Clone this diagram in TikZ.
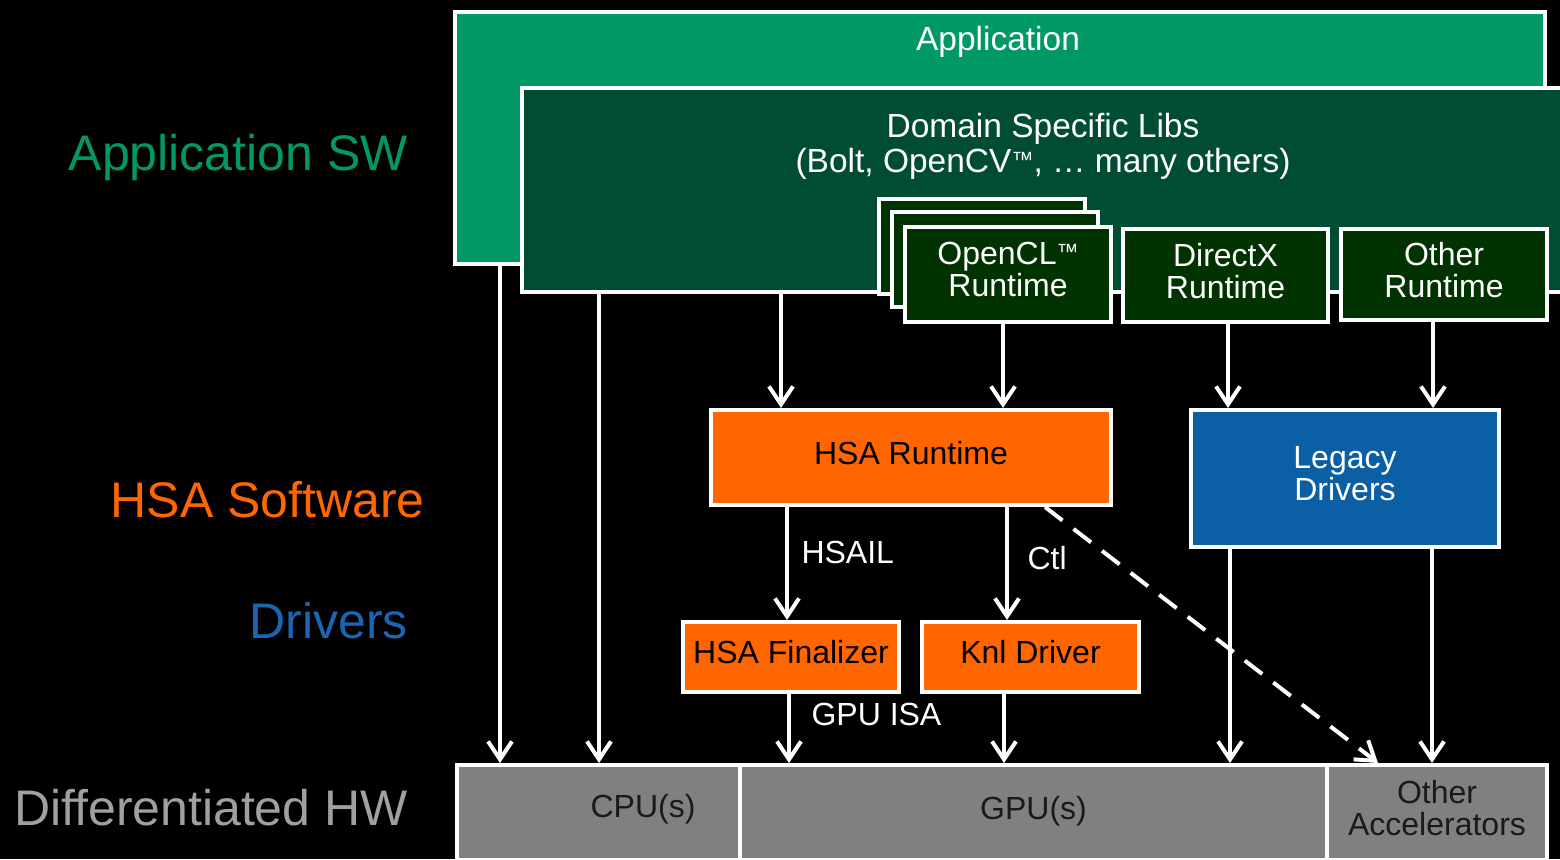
\documentclass[tikz,border=0pt]{standalone}
\usepackage{fontspec}
\setmainfont{Liberation Sans}
\usetikzlibrary{arrows.meta}

\definecolor{appgreen}{HTML}{009966}
\definecolor{libgreen}{HTML}{004D33}
\definecolor{rtgreen}{HTML}{003300}
\definecolor{hsaorange}{HTML}{FF6600}
\definecolor{legblue}{HTML}{0B5FA5}
\definecolor{drvblue}{HTML}{1A66B3}
\definecolor{hwgray}{HTML}{808080}
\definecolor{lightgray}{HTML}{A0A0A0}
\definecolor{inkdark}{HTML}{1A1A1A}

% small raised trademark sign
\newcommand{\tmsign}{\raisebox{5pt}{\fontsize{22}{22}\selectfont ™}}

\begin{document}
\begin{tikzpicture}[x=1pt,y=-1pt,
  box/.style={draw=white, line width=4pt, rectangle, inner sep=0pt,
    anchor=north west, align=center, text depth=10pt,
    font=\fontsize{32}{32}\selectfont},
  boxtext/.style={align=center, font=\fontsize{33.5}{35}\selectfont},
  sidelabel/.style={anchor=east, inner sep=0pt, font=\fontsize{50}{52}\selectfont},
  edgelabel/.style={anchor=west, text=white, font=\fontsize{32}{33}\selectfont},
  arr/.style={draw=white, line width=4pt,
    -{Straight Barb[length=18pt,width=24pt,line width=4pt]}}]

\useasboundingbox (0,0) rectangle (1560,859);
\fill[black] (0,0) rectangle (1560,859);
\clip (0,0) rectangle (1560,859);

% layer labels on the left
\node[sidelabel, text=appgreen] (lsw) at (408,158) {Application SW};
\node[sidelabel, text=hsaorange] (lhsa) at (425,500) {HSA Software};
\node[sidelabel, text=drvblue] (ldrv) at (408,621) {Drivers};
\node[sidelabel, text=lightgray] (lhw) at (408,808) {Differentiated HW};

% application and library layers
\node[box, fill=appgreen, minimum width=1090, minimum height=252] (app) at (453,10) {};
\node[boxtext, text=white] (applab) at (998,42) {Application};
\node[box, fill=libgreen, minimum width=1100, minimum height=204] (dsl) at (520,86) {};
\node[boxtext, text=white] (dsllab) at (1043,146) {Domain Specific Libs\\(Bolt, OpenCV\tmsign, … many others)};

% runtimes
\node[box, fill=rtgreen, minimum width=206, minimum height=95] (oclc) at (877,197) {};
\node[box, fill=rtgreen, minimum width=206, minimum height=95] (oclb) at (890,210) {};
\node[box, fill=rtgreen, minimum width=206, minimum height=95, text=white] (ocl) at (903,225) {OpenCL\tmsign\\Runtime};
\node[box, fill=rtgreen, minimum width=205, minimum height=93, text=white] (dx) at (1121,227) {DirectX\\Runtime};
\node[box, fill=rtgreen, minimum width=206, minimum height=91, text=white] (oth) at (1339,227) {Other\\Runtime};

% HSA software and drivers
\node[box, fill=hsaorange, minimum width=400, minimum height=95, text=black] (hsart) at (709,408) {HSA Runtime};
\node[box, fill=legblue, minimum width=308, minimum height=137, text=white] (legacy) at (1189,408) {Legacy\\Drivers};
\node[box, fill=hsaorange, minimum width=216, minimum height=70, text=black] (fin) at (681,620) {HSA Finalizer};
\node[box, fill=hsaorange, minimum width=217, minimum height=70, text=black] (knl) at (920,620) {Knl Driver};

% hardware
\node[box, fill=hwgray, minimum width=283, minimum height=95] (cpu) at (455,763) {};
\node[boxtext, font=\fontsize{32}{33}\selectfont, text=inkdark] (cpulab) at (643,809) {CPU(s)};
\node[box, fill=hwgray, minimum width=587, minimum height=95, text=inkdark] (gpu) at (738,763) {GPU(s)};
\node[box, fill=hwgray, minimum width=220, minimum height=95, text=inkdark] (acc) at (1325,763) {Other\\Accelerators};

% connector columns
\coordinate (xa1) at (500,0);
\coordinate (xa2) at (599,0);
\coordinate (xa3) at (781,0);
\coordinate (xa4) at (1003,0);
\coordinate (xa5) at (1228,0);
\coordinate (xa6) at (1433,0);
\coordinate (xb1) at (787,0);
\coordinate (xb2) at (1007,0);
\coordinate (xc1) at (789,0);
\coordinate (xc2) at (1004,0);
\coordinate (xd1) at (1230,0);
\coordinate (xd2) at (1432,0);
\coordinate (xe1) at (1045,0);
\coordinate (xe2) at (1378,0);

\draw[arr] (app.south -| xa1) -- (cpu.north -| xa1);
\draw[arr] (dsl.south -| xa2) -- (cpu.north -| xa2);
\draw[arr] (dsl.south -| xa3) -- (hsart.north -| xa3);
\draw[arr] (ocl.south -| xa4) -- (hsart.north -| xa4);
\draw[arr] (dx.south -| xa5) -- (legacy.north -| xa5);
\draw[arr] (oth.south -| xa6) -- (legacy.north -| xa6);
\draw[arr] (hsart.south -| xb1) -- (fin.north -| xb1);
\draw[arr] (hsart.south -| xb2) -- (knl.north -| xb2);
\draw[arr] (fin.south -| xc1) -- (gpu.north -| xc1);
\draw[arr] (knl.south -| xc2) -- (gpu.north -| xc2);
\draw[arr] (legacy.south -| xd1) -- (gpu.north -| xd1);
\draw[arr] (legacy.south -| xd2) -- (acc.north -| xd2);
\draw[arr, dash pattern=on 22pt off 14pt] (hsart.south -| xe1) -- (acc.north -| xe2);

% connector labels
\node[edgelabel] (lhsail) at (798,552) {HSAIL};
\node[edgelabel] (lctl) at (1024,558) {Ctl};
\node[edgelabel] (lisa) at (808,714) {GPU ISA};

\end{tikzpicture}
\end{document}
